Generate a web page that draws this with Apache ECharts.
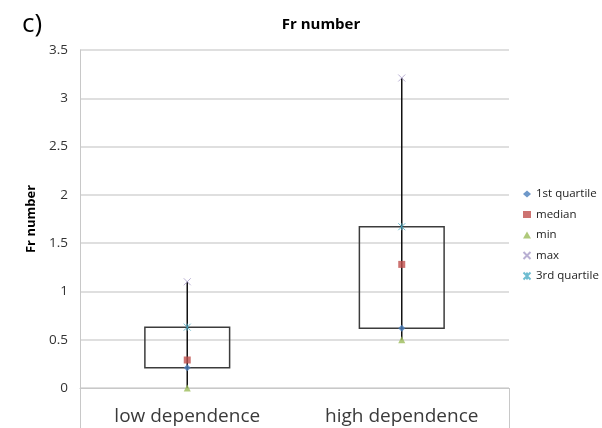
<!DOCTYPE html>
<html>
<head>
<meta charset="utf-8">
<script src="https://cdn.jsdelivr.net/npm/echarts@6/dist/echarts.min.js"></script>
<style>html,body{margin:0;padding:0;background:#fff}#c{width:602px;height:428px}</style>
</head>
<body>
<div id="c"></div>
<script>
var categories = ['low dependence', 'high dependence'];
var q1Values = [0.21, 0.62];
var medianValues = [0.29, 1.28];
var minValues = [0.0, 0.5];
var maxValues = [1.1, 3.21];
var q3Values = [0.63, 1.67];
var yTicks = [0, 0.5, 1, 1.5, 2, 2.5, 3, 3.5];

var boxData = categories.map(function (c, i) {
  return [i, minValues[i], q1Values[i], q3Values[i], maxValues[i]];
});

var chart = echarts.init(document.getElementById('c'), null, {renderer: 'canvas'});
var font = '"Open Sans", "Liberation Sans", sans-serif';
var option = {
  animation: false,
  textStyle: {fontFamily: font},
  title: [
    {text: 'Fr number', left: 316, top: 12, textAlign: 'center',
     textStyle: {fontSize: 15, fontWeight: 'bold', color: '#000', fontFamily: font}},
    {text: 'c)', left: 17, top: 7,
     textStyle: {fontSize: 26, fontWeight: 'normal', color: '#000', fontFamily: font}}
  ],
  legend: {
    orient: 'vertical', left: 516, top: 183, itemGap: 8.5,
    itemWidth: 8, itemHeight: 7,
    textStyle: {fontSize: 11.5, color: '#222', fontFamily: font, padding: [0, 0, 0, 0]},
    data: ['1st quartile', 'median', 'min', 'max', '3rd quartile']
  },
  grid: {left: 80, right: 93, top: 50, bottom: 40},
  xAxis: {
    type: 'category', data: categories, boundaryGap: true,
    axisLine: {lineStyle: {color: '#c8c8c8', width: 1}},
    axisTick: {show: true, length: 40, interval: function (idx) { return idx === 0; },
               lineStyle: {color: '#c8c8c8'}},
    axisLabel: {fontSize: 19, color: '#3a3a3a', margin: 19, fontFamily: font}
  },
  yAxis: {
    type: 'value', min: 0, max: 3.5, interval: 0.5,
    name: 'Fr number', nameLocation: 'middle', nameGap: 40, nameRotate: 90,
    nameTextStyle: {fontSize: 13, fontWeight: 'bold', color: '#000', fontFamily: font},
    axisLine: {show: true, lineStyle: {color: '#c8c8c8'}},
    axisTick: {show: false},
    axisLabel: {fontSize: 13.5, color: '#333', margin: 12, fontFamily: font,
                formatter: function (v) { return yTicks.indexOf(v) >= 0 ? String(v) : ''; }},
    splitLine: {lineStyle: {color: '#d4d4d4', width: 1.5}}
  },
  series: [
    {
      type: 'custom', name: 'box', silent: true, z: 1,
      renderItem: function (params, api) {
        var x = api.value(0);
        var pMin = api.coord([x, api.value(1)]);
        var pQ1 = api.coord([x, api.value(2)]);
        var pQ3 = api.coord([x, api.value(3)]);
        var pMax = api.coord([x, api.value(4)]);
        var band = api.size([1, 0])[0];
        var w = band * 0.395;
        return {
          type: 'group',
          children: [
            {type: 'rect', shape: {x: pQ1[0] - w / 2, y: pQ3[1], width: w, height: pQ1[1] - pQ3[1]},
             style: {fill: 'none', stroke: '#3c3c3c', lineWidth: 1.5}},
            {type: 'line', shape: {x1: pMin[0], y1: pMin[1], x2: pMax[0], y2: pMax[1]},
             style: {stroke: '#111', lineWidth: 1.5}}
          ]
        };
      },
      encode: {x: 0, y: [1, 2, 3, 4]},
      data: boxData
    },
    {name: '1st quartile', type: 'scatter', symbol: 'diamond', symbolSize: 7, z: 5,
     itemStyle: {color: '#4a7ebb'}, data: q1Values},
    {name: 'median', type: 'scatter', symbol: 'rect', symbolSize: 7, z: 5,
     itemStyle: {color: '#c0504d'}, data: medianValues},
    {name: 'min', type: 'scatter', symbol: 'triangle', symbolSize: 7, z: 5,
     itemStyle: {color: '#9bbb59'}, data: minValues},
    {name: 'max', type: 'scatter', symbol: 'path://M0,0L10,10M10,0L0,10', symbolSize: 7, z: 5,
     itemStyle: {color: 'none', borderColor: '#a89cc8', borderWidth: 1}, data: maxValues},
    {name: '3rd quartile', type: 'scatter', symbol: 'path://M0,0L10,10M10,0L0,10M5,0L5,10', symbolSize: 7, z: 5,
     itemStyle: {color: 'none', borderColor: '#4bacc6', borderWidth: 1}, data: q3Values}
  ]
};
chart.setOption(option);
</script>
</body>
</html>
